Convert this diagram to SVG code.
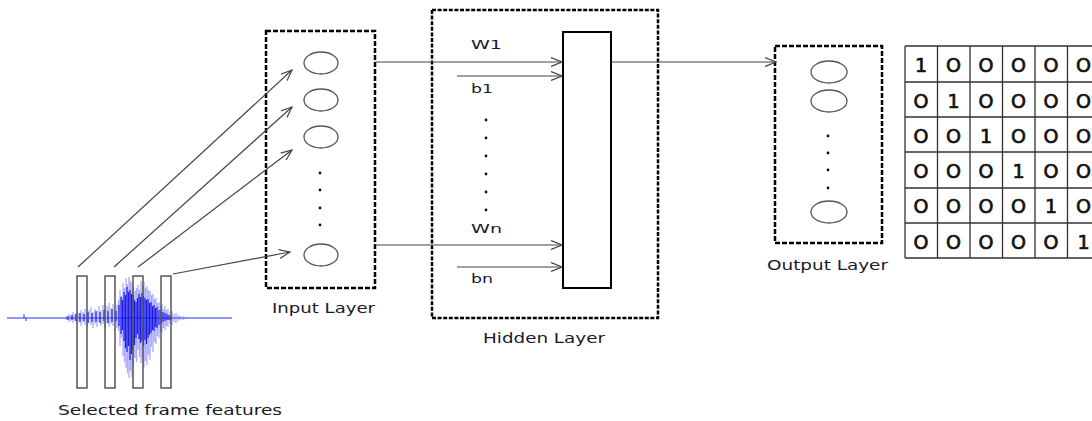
<svg xmlns="http://www.w3.org/2000/svg" width="1092" height="421" viewBox="0 0 1092 421">
<defs>
<style>
.lbl{font-family:"DejaVu Sans","Verdana",sans-serif;font-size:13.5px;fill:#1a1a2a;}
.sm{font-family:"DejaVu Sans","Verdana",sans-serif;font-size:12.5px;fill:#1a1a2a;}
.mx{font-family:"DejaVu Sans","Verdana",sans-serif;font-size:19px;fill:#111;stroke:#111;stroke-width:0.7;text-anchor:middle;}
.dash{fill:none;stroke:#000;stroke-width:2.5;stroke-dasharray:5 2;}
.dash2{fill:none;stroke:#000;stroke-width:2.5;stroke-dasharray:4 1.6;}
.node{fill:#fff;stroke:#555;stroke-width:1.3;}
.conn{fill:none;stroke:#444;stroke-width:1.2;}
.frame{fill:none;stroke:#555;stroke-width:1.5;}
.dot{fill:#111;}
.grid{stroke:#333;stroke-width:1.3;fill:none;}
</style>
<marker id="arr" viewBox="0 0 12 10" refX="11" refY="5" markerWidth="12" markerHeight="10" markerUnits="userSpaceOnUse" orient="auto">
<path d="M0,0.5 L11,5 L0,9.5" fill="none" stroke="#444" stroke-width="1.2"/>
</marker>
</defs>
<rect width="1092" height="421" fill="#fff"/>

<g id="waveform">
<path d="M7,318 H232 M24,318 V314 M26,318 V321" stroke="#2233ff" stroke-width="1" fill="none"/>
<path fill="none" stroke="#5a5aff" stroke-opacity="0.5" stroke-width="1.3" d="M66,316V320M69,314V322M71,315V321M73,312V323M75,314V321M77,311V324M79,313V322M81,310V326M83,312V323M85,309V325M87,313V327M89,310V323M91,307V325M93,312V328M95,309V324M97,311V327M99,306V322M101,310V326M103,305V324M105,309V329M107,306V323M109,303V327M111,308V324M113,304V326M115,309V322M117,305V328M118.5,300V331M120,290V346M121.5,296V338M123,283V356M124.5,288V362M126,278V368M127.5,284V373M129,277V378M130.5,281V371M132,283V377M133.5,287V366M135,291V358M136.5,288V362M138,285V350M139.5,290V357M141,281V363M142.5,285V358M144,282V367M145.5,288V361M147,286V365M148.5,290V355M150,291V360M151.5,295V347M153,294V352M154.5,299V342M156,298V344M157.5,303V336M159,302V338M160.5,306V331M162,304V333M163.5,309V328M165,306V330M166.5,310V326M168,309V327M170,312V324M172,311V325M174,314V322M176,313V323M178,315V321M180,316V320M183,316V320M186,317V319"/>
<path fill="none" stroke="#0000e6" stroke-opacity="0.85" stroke-width="1.2" d="M68,316V320M72,315V320M76,314V321M80,313V322M84,314V321M88,312V323M92,313V322M96,311V322M100,312V323M104,310V321M108,311V323M112,309V322M116,311V321M119,305V326M121,297V334M122.5,300V330M124,292V341M125.5,295V348M127,287V352M128.5,292V346M130,290V360M131.5,294V354M133,295V350M134.5,300V345M136,302V338M137.5,298V334M139,294V339M140.5,297V343M142,293V341M143.5,296V346M145,298V340M146.5,300V344M148,299V338M149.5,303V335M151,302V333M152.5,306V330M154,305V331M155.5,308V327M157,307V328M159,310V325M161,311V324M163,312V322M165,313V321M167,314V320M169,315V320M171,316V320"/>
</g>

<g id="frames">
<rect class="frame" x="77" y="276" width="10" height="112"/>
<rect class="frame" x="105" y="276" width="10" height="112"/>
<rect class="frame" x="133" y="276" width="10" height="112"/>
<rect class="frame" x="161" y="276" width="10" height="112"/>
<text class="lbl" x="58" y="415" textLength="224" lengthAdjust="spacingAndGlyphs">Selected frame features</text>
</g>

<g id="input-layer">
<rect class="dash" x="266" y="31" width="109" height="257"/>
<ellipse class="node" cx="321" cy="63" rx="17" ry="11"/>
<ellipse class="node" cx="321" cy="100" rx="17" ry="11"/>
<ellipse class="node" cx="321" cy="137" rx="17" ry="11"/>
<circle class="dot" cx="320" cy="173" r="1.4"/>
<circle class="dot" cx="320" cy="190" r="1.4"/>
<circle class="dot" cx="320" cy="208" r="1.4"/>
<circle class="dot" cx="320" cy="225" r="1.4"/>
<ellipse class="node" cx="321" cy="255" rx="17" ry="11"/>
<text class="lbl" x="272" y="313" textLength="103" lengthAdjust="spacingAndGlyphs">Input Layer</text>
</g>

<g id="hidden-layer">
<rect class="dash2" x="432" y="10" width="226" height="308"/>
<rect x="563" y="32" width="48" height="256" fill="#fff" stroke="#000" stroke-width="2"/>
<text class="sm" x="471" y="49" textLength="31" lengthAdjust="spacingAndGlyphs">W1</text>
<text class="sm" x="471" y="93" textLength="22" lengthAdjust="spacingAndGlyphs">b1</text>
<circle class="dot" cx="486" cy="120" r="1.4"/>
<circle class="dot" cx="486" cy="138" r="1.4"/>
<circle class="dot" cx="486" cy="156" r="1.4"/>
<circle class="dot" cx="486" cy="174" r="1.4"/>
<circle class="dot" cx="486" cy="192" r="1.4"/>
<circle class="dot" cx="486" cy="210" r="1.4"/>
<text class="sm" x="471" y="233" textLength="31" lengthAdjust="spacingAndGlyphs">Wn</text>
<text class="sm" x="471" y="283" textLength="22" lengthAdjust="spacingAndGlyphs">bn</text>
<text class="lbl" x="483" y="343" textLength="122" lengthAdjust="spacingAndGlyphs">Hidden Layer</text>
</g>

<g id="output-layer">
<rect class="dash" x="775" y="46" width="107" height="197"/>
<ellipse class="node" cx="829" cy="72" rx="18" ry="11"/>
<ellipse class="node" cx="829" cy="101" rx="18" ry="11"/>
<circle class="dot" cx="828" cy="136" r="1.4"/>
<circle class="dot" cx="828" cy="153" r="1.4"/>
<circle class="dot" cx="828" cy="170" r="1.4"/>
<circle class="dot" cx="828" cy="188" r="1.4"/>
<ellipse class="node" cx="829" cy="212" rx="18" ry="11"/>
<text class="lbl" x="767" y="270" textLength="121" lengthAdjust="spacingAndGlyphs">Output Layer</text>
</g>

<g id="one-hot-matrix">
<path class="grid" d="M905,46V258M937.5,46V258M970,46V258M1002.5,46V258M1035,46V258M1067.5,46V258M905,46H1092M905,82H1092M905,117H1092M905,152H1092M905,188H1092M905,223H1092M905,258H1092"/>
<g class="mx">
<text x="921" y="72">1</text><text x="953.5" y="72">O</text><text x="986" y="72">O</text><text x="1018.5" y="72">O</text><text x="1051" y="72">O</text><text x="1083.5" y="72">O</text>
<text x="921" y="108">O</text><text x="953.5" y="108">1</text><text x="986" y="108">O</text><text x="1018.5" y="108">O</text><text x="1051" y="108">O</text><text x="1083.5" y="108">O</text>
<text x="921" y="143">O</text><text x="953.5" y="143">O</text><text x="986" y="143">1</text><text x="1018.5" y="143">O</text><text x="1051" y="143">O</text><text x="1083.5" y="143">O</text>
<text x="921" y="178">O</text><text x="953.5" y="178">O</text><text x="986" y="178">O</text><text x="1018.5" y="178">1</text><text x="1051" y="178">O</text><text x="1083.5" y="178">O</text>
<text x="921" y="213">O</text><text x="953.5" y="213">O</text><text x="986" y="213">O</text><text x="1018.5" y="213">O</text><text x="1051" y="213">1</text><text x="1083.5" y="213">O</text>
<text x="921" y="249">O</text><text x="953.5" y="249">O</text><text x="986" y="249">O</text><text x="1018.5" y="249">O</text><text x="1051" y="249">O</text><text x="1083.5" y="249">1</text>
</g>
</g>

<g id="connectors">
<line class="conn" x1="78" y1="267" x2="292" y2="70" marker-end="url(#arr)"/>
<line class="conn" x1="114" y1="267" x2="292" y2="107" marker-end="url(#arr)"/>
<line class="conn" x1="138" y1="267" x2="292" y2="150" marker-end="url(#arr)"/>
<line class="conn" x1="173" y1="274" x2="290" y2="252" marker-end="url(#arr)"/>
<line class="conn" x1="375" y1="62" x2="562" y2="62" marker-end="url(#arr)"/>
<line class="conn" x1="457" y1="76" x2="562" y2="76" marker-end="url(#arr)"/>
<line class="conn" x1="375" y1="245" x2="562" y2="245" marker-end="url(#arr)"/>
<line class="conn" x1="457" y1="267" x2="562" y2="267" marker-end="url(#arr)"/>
<line class="conn" x1="611" y1="62" x2="776" y2="62" marker-end="url(#arr)"/>
</g>
</svg>
